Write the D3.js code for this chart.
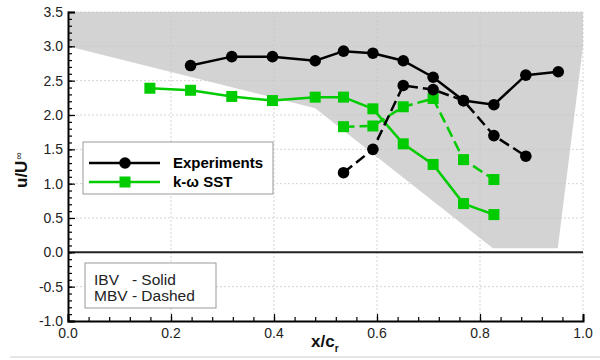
<!DOCTYPE html>
<html>
<head>
<meta charset="utf-8">
<script src="https://cdn.jsdelivr.net/npm/d3@7"></script>
<style>
  html, body { margin: 0; padding: 0; background: #fff; }
  svg { display: block; font-family: "Liberation Sans", Arial, Helvetica, sans-serif; }
</style>
</head>
<body>
<svg id="chart" width="600" height="360"></svg>
<script>
// Velocity ratio along the chord: experiments vs. k-omega SST,
// for the IBV (solid) and MBV (dashed) vortices.
const expIbvX = [0.238, 0.318, 0.397, 0.480, 0.535, 0.592, 0.651, 0.709, 0.768, 0.827, 0.889, 0.952];
const expIbvY = [2.72, 2.85, 2.85, 2.79, 2.93, 2.90, 2.79, 2.55, 2.21, 2.15, 2.58, 2.63];

const expMbvX = [0.535, 0.592, 0.651, 0.709, 0.768, 0.827, 0.889];
const expMbvY = [1.16, 1.50, 2.43, 2.37, 2.21, 1.70, 1.40];

const sstIbvX = [0.159, 0.238, 0.318, 0.397, 0.480, 0.535, 0.592, 0.651, 0.709, 0.768, 0.827];
const sstIbvY = [2.39, 2.36, 2.27, 2.21, 2.26, 2.26, 2.09, 1.58, 1.28, 0.71, 0.55];

const sstMbvX = [0.535, 0.592, 0.651, 0.709, 0.768, 0.827];
const sstMbvY = [1.83, 1.84, 2.12, 2.24, 1.35, 1.06];

// Planform outline (shaded region) in x/c_r, u/U∞ coordinates
const shadeX = [0.0, 1.0, 1.0, 0.951, 0.825, 0.480, 0.0];
const shadeY = [3.5, 3.5, 3.0, 0.06, 0.06, 2.10, 3.0];

const xTicks = [0.0, 0.2, 0.4, 0.6, 0.8, 1.0];
const yTicks = [-1.0, -0.5, 0.0, 0.5, 1.0, 1.5, 2.0, 2.5, 3.0, 3.5];

const svg = d3.select("#chart");
const L = 68, R = 583, T = 12, B = 321;

const x = d3.scaleLinear().domain([0, 1]).range([L, R]);
const y = d3.scaleLinear().domain([-1, 3.5]).range([B, T]);

const zip = (xs, ys) => xs.map((v, i) => [v, ys[i]]);

// shaded region
svg.append("path")
  .datum(zip(shadeX, shadeY))
  .attr("d", d3.line().x(d => x(d[0])).y(d => y(d[1])).curve(d3.curveLinearClosed))
  .attr("fill", "#d3d3d3");

// grid
const grid = svg.append("g").attr("stroke", "#c8c8c8").attr("stroke-width", 0.8).attr("stroke-dasharray", "2,2");
xTicks.slice(1).forEach(t => grid.append("line").attr("x1", x(t)).attr("x2", x(t)).attr("y1", T).attr("y2", B));
yTicks.slice(1).forEach(t => grid.append("line").attr("x1", L).attr("x2", R).attr("y1", y(t)).attr("y2", y(t)));

// zero line
svg.append("line").attr("x1", L).attr("x2", R).attr("y1", y(0)).attr("y2", y(0))
  .attr("stroke", "#222").attr("stroke-width", 2);

// axes with inward ticks
const xAxis = d3.axisTop(x).tickValues(xTicks).tickSize(7).tickFormat("");
const gx = svg.append("g").attr("transform", `translate(0,${B})`).call(xAxis);
gx.append("g").call(d3.axisTop(x).tickValues(d3.range(0, 1.0001, 0.04)).tickSize(4).tickFormat(""));
gx.selectAll("path.domain").attr("stroke", "#000").attr("stroke-width", 2);
gx.selectAll(".tick line").attr("stroke", "#000").attr("stroke-width", 1.2);
gx.selectAll("path.domain").filter((d, i) => i > 0).remove();

const yAxis = d3.axisRight(y).tickValues(yTicks).tickSize(7).tickFormat("");
const gy = svg.append("g").attr("transform", `translate(${L},0)`).call(yAxis);
gy.append("g").call(d3.axisRight(y).tickValues(d3.range(-1, 3.5001, 0.1)).tickSize(4).tickFormat(""));
gy.selectAll("path.domain").attr("stroke", "#000").attr("stroke-width", 2);
gy.selectAll(".tick line").attr("stroke", "#000").attr("stroke-width", 1.2);
gy.selectAll("path.domain").filter((d, i) => i > 0).remove();

// tick labels
svg.append("g").selectAll("text").data(xTicks).join("text")
  .attr("x", d => x(d)).attr("y", B + 17).attr("text-anchor", "middle")
  .attr("font-size", 14).attr("fill", "#222").text(d => d.toFixed(1));
svg.append("g").selectAll("text").data(yTicks).join("text")
  .attr("x", L - 5).attr("y", d => y(d) + 5).attr("text-anchor", "end")
  .attr("font-size", 14).attr("fill", "#222").text(d => d.toFixed(1));

// axis titles
const xl = svg.append("text").attr("x", 311).attr("y", 347).attr("font-size", 17).attr("font-weight", "bold").attr("fill", "#111");
xl.append("tspan").text("x/c");
xl.append("tspan").attr("font-size", 10).attr("dy", 5).text("r");

const yl = svg.append("text").attr("transform", "translate(27,188) rotate(-90)")
  .attr("font-size", 17).attr("font-weight", "bold").attr("fill", "#111");
yl.append("tspan").text("u/U");
yl.append("tspan").attr("font-size", 10).attr("font-weight", "normal").attr("dy", -5).attr("dx", 1).text("∞");

// series
const line = d3.line().x(d => x(d[0])).y(d => y(d[1]));
function series(xs, ys, color, dashed, marker) {
  const data = zip(xs, ys);
  svg.append("path").datum(data).attr("d", line).attr("fill", "none")
    .attr("stroke", color).attr("stroke-width", 2.5)
    .attr("stroke-dasharray", dashed ? "11,5" : null);
  const g = svg.append("g").attr("fill", color);
  if (marker === "circle") {
    g.selectAll("circle").data(data).join("circle")
      .attr("cx", d => x(d[0])).attr("cy", d => y(d[1])).attr("r", 5.8);
  } else {
    g.selectAll("rect").data(data).join("rect")
      .attr("x", d => x(d[0]) - 5.5).attr("y", d => y(d[1]) - 5.5)
      .attr("width", 11).attr("height", 11);
  }
}
series(sstIbvX, sstIbvY, "#00cc00", false, "square");
series(sstMbvX, sstMbvY, "#00cc00", true, "square");
series(expIbvX, expIbvY, "#000", false, "circle");
series(expMbvX, expMbvY, "#000", true, "circle");

// legend
const lg = svg.append("g");
lg.append("rect").attr("x", 83).attr("y", 142).attr("width", 190).attr("height", 52)
  .attr("fill", "#fff").attr("stroke", "#999").attr("stroke-width", 1);
lg.append("line").attr("x1", 89).attr("x2", 160).attr("y1", 163).attr("y2", 163).attr("stroke", "#000").attr("stroke-width", 2.5);
lg.append("circle").attr("cx", 125).attr("cy", 163).attr("r", 5.8).attr("fill", "#000");
lg.append("line").attr("x1", 89).attr("x2", 160).attr("y1", 182).attr("y2", 182).attr("stroke", "#00cc00").attr("stroke-width", 2.5);
lg.append("rect").attr("x", 119.5).attr("y", 176.5).attr("width", 11).attr("height", 11).attr("fill", "#00cc00");
lg.append("text").attr("x", 173).attr("y", 168).attr("font-size", 15).attr("font-weight", "bold").text("Experiments");
lg.append("text").attr("x", 173).attr("y", 187).attr("font-size", 15).attr("font-weight", "bold").text("k-ω SST");

// line-style note
const nb = svg.append("g");
nb.append("rect").attr("x", 85).attr("y", 263).attr("width", 131).attr("height", 45)
  .attr("fill", "#fff").attr("stroke", "#999").attr("stroke-width", 1);
nb.append("text").attr("x", 94).attr("y", 285).attr("font-size", 15.5).attr("fill", "#222").attr("xml:space", "preserve").text("IBV   - Solid");
nb.append("text").attr("x", 94).attr("y", 301).attr("font-size", 15.5).attr("fill", "#222").text("MBV - Dashed");

// separator at the bottom
svg.append("line").attr("x1", 10).attr("x2", 600).attr("y1", 357).attr("y2", 357).attr("stroke", "#ddd").attr("stroke-width", 1.5);
</script>
</body>
</html>
